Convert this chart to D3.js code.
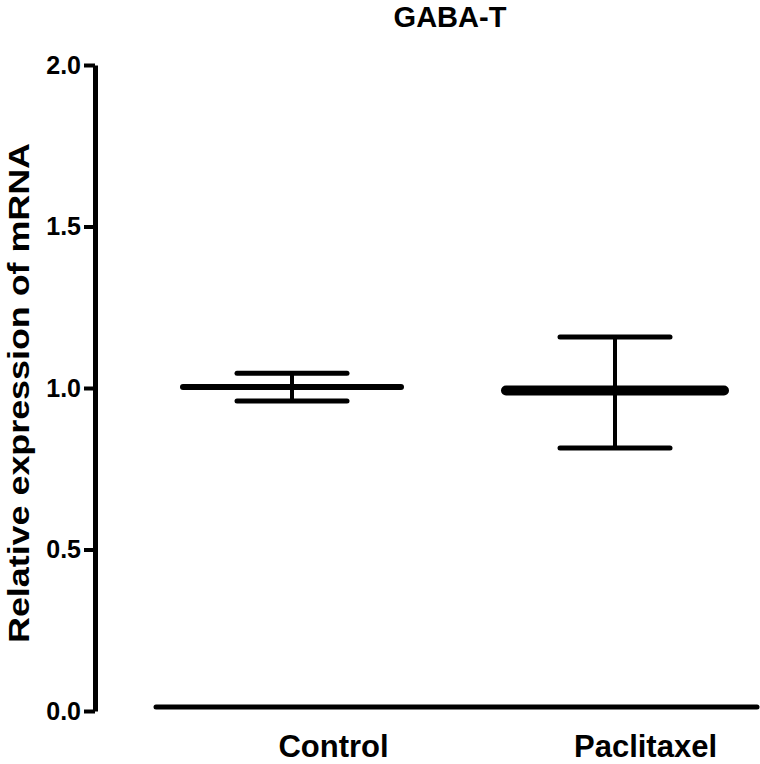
<!DOCTYPE html>
<html><head><meta charset="utf-8">
<script src="https://cdn.jsdelivr.net/npm/d3@7"></script>
<style>body{margin:0;background:#fff}svg{display:block}text{font-family:"Liberation Sans",Arial,sans-serif;font-weight:bold;fill:#000}</style>
</head><body>
<svg id="c" width="760" height="764"></svg>
<script>
const categories = ["Control", "Paclitaxel"];
const means = [1.003, 0.992];
const upper = [1.046, 1.158];
const lower = [0.960, 0.814];
const yTicks = [0.0, 0.5, 1.0, 1.5, 2.0];
const title = "GABA-T";
const yLabel = "Relative expression of mRNA";
const meanWidths = [6, 10];

const svg = d3.select("#c");
const y = d3.scaleLinear().domain([0, 2]).range([711, 65]);
const x = d3.scalePoint().domain(categories).range([292, 615]);
const xl = d3.scalePoint().domain(categories).range([333, 645]);
const axX = 95;

// y axis
const ya = svg.append("g").attr("transform", `translate(${axX},0)`)
  .call(d3.axisLeft(y).tickValues(yTicks).tickFormat(d3.format(".1f")).tickSize(11).tickPadding(3).tickSizeOuter(0));
ya.select(".domain").attr("stroke", "#000").attr("stroke-width", 5);
ya.selectAll(".tick line").attr("stroke", "#000").attr("stroke-width", 4);
ya.selectAll(".tick text").style("font-size", "25px").attr("fill", "#000").style("font-family", '"Liberation Sans",Arial,sans-serif').style("font-weight", "bold");

// x axis line (offset)
svg.append("line").attr("x1", 156).attr("x2", 757).attr("y1", y(0) - 4).attr("y2", y(0) - 4)
  .attr("stroke", "#000").attr("stroke-width", 5).attr("stroke-linecap", "round");

// x labels
const xa = svg.append("g").attr("transform", `translate(0,${y(0)})`)
  .call(d3.axisBottom(xl).tickSize(0).tickPadding(0));
xa.select(".domain").remove();
xa.selectAll(".tick text").attr("dy", null).attr("y", 46).style("font-size", "31px").attr("fill", "#000")
  .style("font-family", '"Liberation Sans",Arial,sans-serif').style("font-weight", "bold");

// error bars
const g = svg.append("g").attr("stroke", "#000").attr("stroke-linecap", "round").attr("fill", "none");
categories.forEach((c, i) => {
  const cx = x(c);
  g.append("line").attr("x1", cx).attr("x2", cx).attr("y1", y(upper[i])).attr("y2", y(lower[i])).attr("stroke-width", 4);
  [upper[i], lower[i]].forEach(v => {
    g.append("line").attr("x1", cx - 55).attr("x2", cx + 55).attr("y1", y(v)).attr("y2", y(v)).attr("stroke-width", 5);
  });
  g.append("line").attr("x1", cx - 109).attr("x2", cx + 109).attr("y1", y(means[i])).attr("y2", y(means[i])).attr("stroke-width", meanWidths[i]);
});

// title
svg.append("text").attr("x", 450).attr("y", 27).attr("text-anchor", "middle").style("font-size", "29px").text(title);
// y label
svg.append("text").attr("transform", "translate(29,393) rotate(-90)").attr("text-anchor", "middle")
  .style("font-size", "30px").attr("textLength", 500).attr("lengthAdjust", "spacingAndGlyphs").text(yLabel);
</script>
</body></html>
